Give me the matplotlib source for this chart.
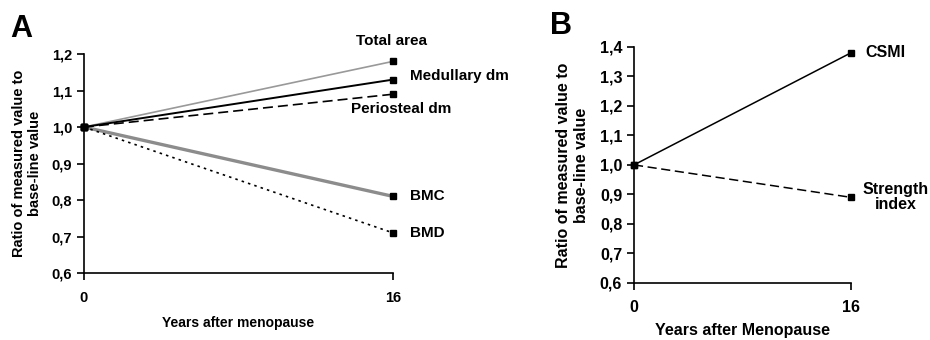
import matplotlib.pyplot as plt

plt.rcParams['font.family'] = ['Liberation Sans', 'DejaVu Sans']
plt.rcParams['font.weight'] = 'bold'
plt.rcParams['axes.labelweight'] = 'bold'

years = [0, 16]

# Panel A: geometric and density parameters
total_area = [1.0, 1.18]
medullary_dm = [1.0, 1.13]
periosteal_dm = [1.0, 1.09]
bmc = [1.0, 0.81]
bmd = [1.0, 0.71]

# Panel B: strength parameters
csmi = [1.0, 1.38]
strength_index = [1.0, 0.89]

yticks_a = [0.6, 0.7, 0.8, 0.9, 1.0, 1.1, 1.2]
yticks_b = [0.6, 0.7, 0.8, 0.9, 1.0, 1.1, 1.2, 1.3, 1.4]

fig = plt.figure(figsize=(9.3, 3.4), dpi=100)
ax1 = fig.add_axes([0.0903, 0.197, 0.3323, 0.644])
ax2 = fig.add_axes([0.6817, 0.168, 0.2333, 0.694])


def style_axis(ax, yticks, fs, xpad):
    ax.set_xlim(0, 16)
    ax.set_ylim(yticks[0], yticks[-1])
    ax.set_xticks(years)
    ax.set_xticklabels([str(v) for v in years], fontweight='bold', fontsize=fs)
    ax.set_yticks(yticks)
    ax.set_yticklabels([f'{v:.1f}'.replace('.', ',') for v in yticks],
                       fontweight='bold', fontsize=fs)
    for s in ['top', 'right']:
        ax.spines[s].set_visible(False)
    for s in ['left', 'bottom']:
        ax.spines[s].set_linewidth(1.2)
    ax.tick_params(axis='both', direction='out', length=5, width=1.2)
    ax.tick_params(axis='x', pad=xpad)


mk = dict(marker='s', markersize=5, markerfacecolor='black',
          markeredgecolor='black', clip_on=False)

# --- A ---
ax1.plot(years, bmc, color='#8c8c8c', lw=2.4, **mk)
ax1.plot(years, bmd, color='black', lw=1.2, linestyle=(0, (1.5, 2.5)), **mk)
ax1.plot(years, total_area, color='#999999', lw=1.2, **mk)
ax1.plot(years, periosteal_dm, color='black', lw=1.2, linestyle=(0, (6, 3)), **mk)
ax1.plot(years, medullary_dm, color='black', lw=1.4, **mk)
style_axis(ax1, yticks_a, 10.5, 8)

ax1.text(14.1, 1.235, 'Total area', fontsize=11, ha='left', va='center', clip_on=False)
ax1.text(16.9, 1.14, 'Medullary dm', fontsize=11, ha='left', va='center', clip_on=False)
ax1.text(13.8, 1.05, 'Periosteal dm', fontsize=11, ha='left', va='center', clip_on=False)
ax1.text(16.9, 0.81, 'BMC', fontsize=11, ha='left', va='center', clip_on=False)
ax1.text(16.9, 0.71, 'BMD', fontsize=11, ha='left', va='center', clip_on=False)

ax1.set_xlabel('Years after menopause', fontsize=10, labelpad=8)
ax1.set_ylabel('Ratio of measured value to\nbase-line value', fontsize=10.5, labelpad=7)

# --- B ---
ax2.plot(years, csmi, color='black', lw=1.1, **mk)
ax2.plot(years, strength_index, color='black', lw=1.1, linestyle=(0, (6, 3)), **mk)
style_axis(ax2, yticks_b, 11.5, 7)

ax2.text(17.1, 1.38, 'CSMI', fontsize=11.5, ha='left', va='center', clip_on=False)
ax2.text(19.3, 0.89, 'Strength\nindex', fontsize=11.5, ha='center', va='center',
         linespacing=1.0, clip_on=False)

ax2.set_xlabel('Years after Menopause', fontsize=11.5, labelpad=6)
ax2.set_ylabel('Ratio of measured value to\nbase-line value', fontsize=11.5, labelpad=8)

fig.text(0.011, 0.915, 'A', fontsize=22, fontweight='bold', va='center')
fig.text(0.591, 0.925, 'B', fontsize=22, fontweight='bold', va='center')

plt.savefig('out.png', dpi=100)
